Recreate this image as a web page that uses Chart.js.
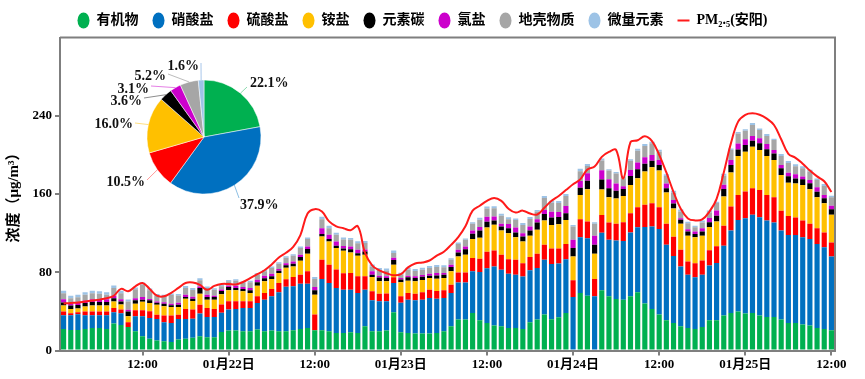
<!DOCTYPE html>
<html><head><meta charset="utf-8">
<script src="https://cdn.jsdelivr.net/npm/chart.js@4.4.1/dist/chart.umd.min.js"></script>
<style>
html,body{margin:0;padding:0;background:#fff;}
#wrap{position:relative;width:865px;height:379px;}
#main{position:absolute;left:0;top:0;}
#pie{position:absolute;left:84px;top:37px;}
</style></head>
<body><div id="wrap"><canvas id="main" width="865" height="379"></canvas><canvas id="pie" width="240" height="200"></canvas></div>
<script>
// ---- categories (hourly, 01-21 01:00 .. 01-25 12:00) ----
const categories = [];
for (let i = 0; i < 108; i++) { const t = 1 + i; const d = 21 + Math.floor(t / 24); const h = t % 24; categories.push('01-' + d + ' ' + String(h).padStart(2, '0') + ':00'); }
const tickLabels = ['12:00','01月22日','12:00','01月23日','12:00','01月24日','12:00','01月25日','12:00'];

const seriesNames = ['有机物','硝酸盐','硫酸盐','铵盐','元素碳','氯盐','地壳物质','微量元素'];
const lineName = 'PM₂.₅(安阳)';

const organic = [22,21,21,22,23,23,22,27.5,26,24, 19.7,14.6,11.9,10.2,9.5,8.8,11.2,11.9,13,14.6, 13.6,13.6,19,20.4,20.4,19.7,19.7,21.4,19.7,20.4, 19.7,19.7,20.7,22.1,23.1,20.7,20.7,19.7,18,18, 18.7,18,24.8,19.7,19.7,20.4,39,18.7,18,17.3, 17.3,17.3,18,19.7,24.8,31.6,31.6,38.4,31,28, 25.5,24.8,23,23,22,29,31.6,36.7,32,34, 38.4,0,58.8,56,0,61.5,55.4,52.7,52,55.4, 59.5,48,42.5,36.7,31,28,24.8,23,22,24, 31,31,35.7,38.4,40,37.7,38.4,35.7,34.3,34.3, 31.6,28,28,26.5,25.5,23,22,20.7];
const nitrate = [14,15,16,14,13,13,14,11.5,12,0, 15.3,20.4,21.4,22,19.4,19.4,21,20.4,19.5,23.1, 20.7,20.7,19.5,21.4,22.1,23.8,23.8,27.2,32.3,35, 39.8,45.6,44.9,46.2,45.2,0,52.4,49.3,46,44, 43.5,40.8,37.4,31.6,30.6,30,30,30,34,34, 34.7,36.4,35,34,34,38,38,42.5,49.3,56, 60.5,57.8,55.4,54.4,53.7,53,52.7,56,56.4,55, 55,54.7,57,58.8,55.4,59,57.8,59.8,60,65.3, 66.6,78.2,84.3,87.4,77.2,68.7,61.2,54.4,53,53.4, 55.8,58.5,71.4,84.3,93.5,97.6,100.3,100.6,98.6,96.6, 91,90,90,89.4,88.4,86,83.6,75.5];
const sulfate = [4,2,2,4,4,4,4,4.5,4,5, 6.1,6.1,6.8,4.4,6.8,7.5,4.4,10.2,9.5,9.2, 9.2,8.2,8.5,8.5,7.8,6.8,6.8,6.8,6.8,7.5, 9.5,7.5,9.5,9.2,12.6,16,19.7,18.7,18.7,17, 17,17,13.6,9.2,7.8,7.8,6,6.8,6.8,6.8, 7.5,8.5,7.8,7.8,8.5,10.2,10.2,13.6,13.6,17, 16.3,15.3,15,15.3,13.6,13.6,14.6,15.3,16,15.3, 15.6,17,18.4,17,17.7,18,17.7,17,19,19.7, 20.4,22.8,23.8,22.4,21.4,19.7,17,13.6,14.3,14.6, 15.6,17,20.4,24.5,25.5,27.2,27.2,27.9,26.2,25.8, 20.4,19.4,18,17,15.6,16,15,14.3];
const ammonium = [6,4.5,4,5,6,6,6,6.5,5,6, 6.8,8.8,8.5,10.2,9.5,8.8,7.8,10.5,8.5,11.2, 8.5,9.5,10.5,11.2,11.2,10.2,8.5,10.9,11.9,10.2, 10.2,11.9,10.9,14.3,18,20.4,23.8,23.8,22,23, 21,21,22,14.6,12.6,12.6,12.6,14.3,12.6,12.6, 12.6,11.9,12.6,12.6,13.6,16.3,18,19.4,21.4,24.8, 26.2,24.8,26.5,23.1,22.1,21.8,24.5,24.8,23.8,24.8, 24.5,24.5,24.8,33,25.8,26,25.8,26,27,28.9, 29.6,34,36.7,37.4,32,28.9,26.5,26.2,26.5,25.2, 23.8,25.5,30,34.7,39.8,40.8,42.5,40.8,39.8,38, 36.4,34,34.7,36.4,35.4,31.6,30,28.2];
const elementalCarbon = [3,3.5,3.5,3.5,3.5,3.5,3.5,3.5,3,5, 3.4,2,2.7,2,2.7,1.7,2.4,1.7,2.4,5.8, 2.7,2.7,3.4,3.3,2.4,2.4,2.7,3.4,3.1,2.7, 2.4,2.4,2.7,3.7,4.8,4.4,2.4,2.4,2.4,2.4, 3.4,2.7,3.4,2.4,4,3.4,4.8,2.7,3.4,3.4, 3.4,2.4,3.4,3.4,4.4,4.1,5.8,5.4,7.5,5.8, 4.4,4.1,5.1,4.8,5.1,5.4,7.5,6.8,7.8,7.5, 6.8,8.5,7.5,8.8,9.2,10.2,9.2,7.8,7,9.2, 9.2,7.8,6.8,5.8,4.4,5.1,4.1,4.4,3.4,4.4, 4.8,5.8,7.5,7.8,6.8,6.8,6.1,6.8,6.8,6.8, 6.8,6.8,5.1,5.8,6.1,5.8,5.1,5.8];
const chloride = [3.5,2,2,2.5,3,3,3,2.5,2.5,1.7, 2,2.7,1.4,1.4,1.4,1.7,2,2.4,2,1.5, 2.4,1.4,1.4,1.5,2.4,2,2.4,2.7,2.7,2.7, 1.7,2,2.4,2.4,2.7,3.4,6.1,4.4,4.4,2.4, 2.7,3.4,2,3.4,1.7,1.7,2.4,1.7,1.7,1.7, 1.7,2,2.4,1.7,2.4,2.7,2.7,3.4,3.4,5.1, 4.1,2.7,4.4,5.1,3.4,4.1,3.4,4.1,5.8,5.1, 7.5,8.5,6.8,7.5,9.2,9.5,9.2,7.5,3,6.1, 6.8,6.8,5.8,5.1,4.8,3.4,1.7,2.4,2.4,3.4, 4.4,5.4,4.4,5.1,6.1,5.8,4.8,5.1,5.4,3.4, 3.4,3.4,4.4,2.7,3.4,4.4,3.4,3.4];
const crustal = [6,5.5,6,6,6,5.5,4.5,8,6,8.5, 9.2,13,8.8,6.1,6.1,8.8,7.5,6.8,7,6.5, 6.8,6.1,3.5,4.4,5.1,4.1,5.8,5.1,4.4,5.8, 5.4,5.8,5.8,6.8,7.5,8.2,9.2,6.8,6.8,6.8, 6.8,6.8,6.8,5.1,6,6,5,3.4,6,5.4, 5.4,5.8,6.1,6,5.1,6.1,6.8,6.8,7.5,8.5, 8.5,8.2,4.8,7.8,8.5,7.5,7.8,12.2,9.2,9.2, 10.2,13.6,10,7.5,12.2,10,8.8,10.2,8,9.5, 12.2,11.6,11.9,8.5,7.5,7.5,6.8,6.1,4.4,5.8, 5.8,7.5,9.2,10.2,10.2,8.8,11.2,8.5,8.2,10.2, 9.2,10.2,8.2,8.5,8.5,7.5,9.2,8.8];
const traceElements = [2.5,2.5,2.5,2.5,2.5,2.5,2.5,2.5,2.5,2, 2,2,2,1.5,1.5,1.5,1.5,2,2,2, 1.5,1.5,1.5,1.5,1.5,1.5,1.5,1.5,1.5,1.5, 1.5,1.5,1.5,1.5,1.5,2,2.5,2.5,2,2, 2,2,2,2,2,2,2.5,2,2,2, 2,2,2,2,1.5,1.5,1.5,1.5,2,2, 2,2,2,1.5,2,2,1.5,2,2,2, 2,1.5,2.5,2,1.5,2,1.5,1.5,2,1.5, 2,2,1.5,2,2,2,2,1.5,1.5,2, 2,1.5,2,1.5,1.5,1.5,2,1.5,2,1.5, 2,2,2,2,2,1.5,2,1.5];
const pm25 = [48,48.6,49,50,51,52,53.4,56,63,60.5, 65.6,69,63,56,55.4,59,64,69,69.5,67, 62,66,68,68,67.5,70,74,78,82,88, 95,100,106,118,140,144.5,142,132,127,125, 123,127,100,87,82,79,77,78,85,89, 90,92,97,101,108,116,127,143,148,153, 156,153,145,141,143,140,139,146,153,158, 164,170,175,185,188,198,203,205,176,213, 215,219,214,200,182,162,145,135,133,134, 142,155,182,212,234,241,242.5,241,237,230.5, 216,201,197,191,184,178,173,162];

const pieShares = [22.1,37.9,10.5,16.0,3.6,3.1,5.2,1.6];

// ---- styles ----
const colors = ['#00B050','#0070C0','#FF0000','#FFC000','#000000','#CC00CC','#A6A6A6','#9DC3E6'];
const leaderColors = ['rgba(0,176,80,0.45)','rgba(0,112,192,0.45)','rgba(255,0,0,0.4)','rgba(255,192,0,0.5)','rgba(0,0,0,0.45)','rgba(204,0,204,0.5)','rgba(120,120,120,0.5)','rgba(110,160,220,0.6)'];
const gray = '#7f7f7f';
const fam = '"Liberation Serif","Noto Sans CJK SC",serif';
const seriesData = [organic, nitrate, sulfate, ammonium, elementalCarbon, chloride, crustal, traceElements];
const tickIdx = categories.map((c, i) => (c.endsWith(' 12:00') || c.endsWith(' 00:00')) ? i : -1).filter(i => i >= 0);

const datasets = seriesNames.map((n, k) => ({
  type: 'bar', label: n, data: seriesData[k], backgroundColor: colors[k], borderColor: colors[k], borderWidth: 0,
  barPercentage: 0.72, categoryPercentage: 1.0, stack: 's', order: 1, pointStyle: 'circle'
}));
datasets.push({ type: 'line', label: lineName, data: pm25, borderColor: '#FF1A1A', backgroundColor: '#FF1A1A', borderWidth: 2,
  pointRadius: 0, tension: 0.4, fill: false, order: 0, stack: 'pm', pointStyle: 'line' });

const framePlugin = { id: 'frame', afterDatasetsDraw(chart) {
  const { ctx, chartArea: a } = chart; ctx.save(); ctx.strokeStyle = gray; ctx.lineWidth = 2;
  ctx.beginPath(); ctx.moveTo(a.left, a.top); ctx.lineTo(a.right, a.top); ctx.lineTo(a.right, a.bottom); ctx.stroke(); ctx.restore(); } };

new Chart(document.getElementById('main'), {
  data: { labels: categories, datasets },
  options: {
    responsive: false, animation: false, devicePixelRatio: 1, events: [],
    layout: { padding: { top: -10, right: 20, bottom: 0, left: 0 } },
    plugins: {
      tooltip: { enabled: false },
      legend: { position: 'top', align: 'center',
        labels: { usePointStyle: true, pointStyleWidth: 12, boxHeight: 11.3, padding: 14, color: '#000',
          font: { family: fam, size: 14, weight: 'bold' }, sort: (a, b) => a.datasetIndex - b.datasetIndex } }
    },
    scales: {
      x: { stacked: true, offset: true,
        grid: { offset: false, drawOnChartArea: false, drawTicks: true, tickLength: 5, lineWidth: 2,
          tickColor: (c) => tickIdx.includes(c.index) ? gray : 'rgba(0,0,0,0)' },
        border: { display: true, color: gray, width: 2 },
        ticks: { autoSkip: false, maxRotation: 0, minRotation: 0, padding: 1, color: '#000',
          font: { family: fam, size: 13, weight: 'bold' },
          callback: (v, i) => { const k = tickIdx.indexOf(i); return k >= 0 ? tickLabels[k] : ''; } },
        afterFit: (s) => { s.height = 28.5; s.paddingRight = 30; }
      },
      y: { stacked: true, min: 0, max: 320,
        grid: { drawOnChartArea: false, drawTicks: true, tickLength: 5, lineWidth: 2,
          tickColor: (c) => (c.tick && c.tick.value === 320) ? 'rgba(0,0,0,0)' : gray },
        border: { display: true, color: gray, width: 2 },
        ticks: { stepSize: 80, padding: 3, color: '#000', font: { family: fam, size: 13, weight: 'bold' },
          callback: (v) => v === 320 ? '' : v },
        title: { display: true, text: '浓度（μg/m³）', color: '#000', font: { family: fam, size: 15, weight: 'bold' }, padding: { top: 5, bottom: 0 } },
        afterFit: (s) => { s.width = 60; s.paddingTop = 37.5; }
      }
    }
  },
  plugins: [framePlugin]
});

// ---- inset pie ----
const pieLabelPos = [
  { tx: 46, ty: -54, al: 'left', lx: 43, ly: -50 },
  { tx: 36, ty: 68, al: 'left', lx: 35, ly: 61 },
  { tx: -59, ty: 45, al: 'right', lx: -57, ly: 43 },
  { tx: -71, ty: -13, al: 'right', lx: -69, ly: -14 },
  { tx: -62, ty: -36, al: 'right', lx: -60, ly: -39 },
  { tx: -55, ty: -48, al: 'right', lx: -53, ly: -51 },
  { tx: -38, ty: -61, al: 'right', lx: -36, ly: -63 },
  { tx: -5, ty: -71, al: 'right', lx: -3, ly: -74 }
];
const pieLabelPlugin = { id: 'pieLabels', afterDatasetsDraw(chart) {
  const ctx = chart.ctx; const meta = chart.getDatasetMeta(0);
  ctx.save(); ctx.font = 'bold 14px "Liberation Serif", serif'; ctx.textBaseline = 'middle'; ctx.fillStyle = '#111';
  meta.data.forEach((arc, i) => {
    const p = pieLabelPos[i]; const cx = arc.x, cy = arc.y, r = arc.outerRadius;
    const mid = (arc.startAngle + arc.endAngle) / 2;
    const sx = cx + Math.cos(mid) * r, sy = cy + Math.sin(mid) * r;
    ctx.strokeStyle = leaderColors[i]; ctx.lineWidth = 1;
    ctx.beginPath(); ctx.moveTo(sx, sy); ctx.lineTo(cx + p.lx, cy + p.ly); ctx.stroke();
    ctx.textAlign = p.al; ctx.fillText(pieShares[i].toFixed(1) + '%', cx + p.tx, cy + p.ty);
  });
  ctx.restore(); } };

new Chart(document.getElementById('pie'), {
  type: 'pie',
  data: { labels: seriesNames, datasets: [{ data: pieShares, backgroundColor: colors, borderColor: '#fff', borderWidth: 0.5, radius: 57 }] },
  options: { responsive: false, animation: false, devicePixelRatio: 1, events: [], layout: { padding: 0 },
    plugins: { legend: { display: false }, tooltip: { enabled: false } } },
  plugins: [pieLabelPlugin]
});
</script>
</body></html>
